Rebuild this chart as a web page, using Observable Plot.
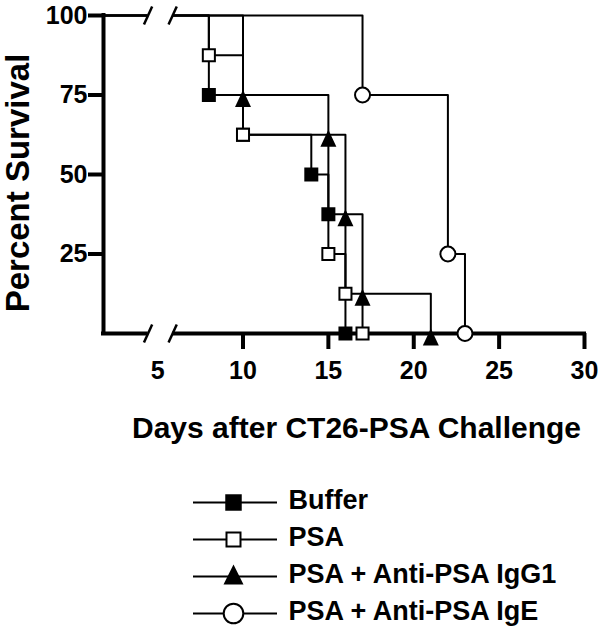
<!DOCTYPE html>
<html>
<head>
<meta charset="utf-8">
<script src="https://cdn.jsdelivr.net/npm/d3@7"></script>
<script src="https://cdn.jsdelivr.net/npm/@observablehq/plot@0.6"></script>
<style>
  html, body { margin: 0; padding: 0; background: white; }
  svg { display: block; }
</style>
</head>
<body>
<div id="chart"></div>
<script>
// ---- data ----
const seriesNames = ["Buffer", "PSA", "PSA + Anti-PSA IgG1", "PSA + Anti-PSA IgE"];

const bufferDays = [0, 8, 10, 14, 15, 16];
const bufferSurvival = [100, 75, 62.5, 50, 37.5, 0];

const psaDays = [0, 8, 10, 15, 16, 17];
const psaSurvival = [100, 87.5, 62.5, 25, 12.5, 0];

const igg1Days = [0, 10, 15, 16, 17, 21];
const igg1Survival = [100, 75, 62.5, 37.5, 12.5, 0];

const igeDays = [0, 17, 22, 23];
const igeSurvival = [100, 75, 25, 0];

const yTicks = [25, 50, 75, 100];
const xTickMarks = [10, 15, 20, 25, 30];
const xTickLabels = [5, 10, 15, 20, 25, 30];
const axisBreak = [4.44, 5.88]; // days where the x axis is broken

const xTitle = "Days after CT26-PSA Challenge";
const yTitle = "Percent Survival";

// ---- build table ----
function rowsOf(name, days, surv) {
  return days.map((d, i) => ({series: name, day: d, pct: surv[i]}));
}
const rows = [
  ...rowsOf(seriesNames[0], bufferDays, bufferSurvival),
  ...rowsOf(seriesNames[1], psaDays, psaSurvival),
  ...rowsOf(seriesNames[2], igg1Days, igg1Survival),
  ...rowsOf(seriesNames[3], igeDays, igeSurvival)
];
const events = name => rows.filter(r => r.series === name && r.day > 0);

// custom triangle symbols
const triangle = (w, top, bottom) => ({
  draw(ctx) {
    ctx.moveTo(0, top);
    ctx.lineTo(w / 2, bottom);
    ctx.lineTo(-w / 2, bottom);
    ctx.closePath();
  }
});
const triPlot = triangle(16, -5, 12);
const triLegend = triangle(20, -12, 8);

const font = "'Liberation Sans', Arial, Helvetica, sans-serif";

const breakSlashes = [];
for (const b of axisBreak) for (const yv of [0, 100]) breakSlashes.push({b, yv});

const chart = Plot.plot({
  width: 600,
  height: 450,
  marginLeft: 103,
  marginRight: 16,
  marginTop: 15,
  marginBottom: 117,
  style: {fontFamily: font, fontWeight: "bold", color: "black", background: "white", overflow: "visible"},
  x: {domain: [1.83, 30], clamp: true},
  y: {domain: [0, 100]},
  marks: [
    // curves
    Plot.line(rows, {x: "day", y: "pct", z: "series", curve: "step-after", stroke: "black", strokeWidth: 2}),
    // axis lines
    Plot.ruleY([0], {stroke: "black", strokeWidth: 4, strokeLinecap: "square"}),
    Plot.ruleX([0], {y1: 0, y2: 100, stroke: "black", strokeWidth: 4, strokeLinecap: "square"}),
    // axis break
    Plot.ruleY([0, 100], {x1: axisBreak[0], x2: axisBreak[1], stroke: "white", strokeWidth: 8}),
    Plot.link(breakSlashes, {
      x1: d => d.b - 0.24, x2: d => d.b + 0.24,
      y1: d => d.yv - 2.8, y2: d => d.yv + 2.8,
      stroke: "black", strokeWidth: 2.5
    }),
    // markers
    Plot.dot(events(seriesNames[0]), {x: "day", y: "pct", symbol: "square", r: 7.9, fill: "black", stroke: "none"}),
    Plot.dot(events(seriesNames[1]), {x: "day", y: "pct", symbol: "square", r: 6.8, fill: "white", stroke: "black", strokeWidth: 2}),
    Plot.dot(events(seriesNames[2]), {x: "day", y: "pct", symbol: triPlot, r: 8, fill: "black", stroke: "none"}),
    Plot.dot(events(seriesNames[3]), {x: "day", y: "pct", symbol: "circle", r: 7.5, fill: "white", stroke: "black", strokeWidth: 2}),
    // axes
    Plot.axisY({ticks: yTicks, tickSize: 15, tickPadding: 1, strokeWidth: 4, fontSize: 25, label: null, tickFormat: d => String(d)}),
    Plot.axisX({ticks: xTickMarks, tickSize: 16, strokeWidth: 4, fill: "none", label: null, tickFormat: () => ""}),
    Plot.axisX({ticks: xTickLabels, tickSize: 0, tickPadding: 28, fontSize: 25, label: null, tickFormat: d => String(d)}),
    // titles
    Plot.text([xTitle], {frameAnchor: "bottom", text: d => d, dx: 12.5, dy: 94.5, fontSize: 30, textAnchor: "middle", lineAnchor: "middle"}),
    Plot.text([yTitle], {frameAnchor: "left", text: d => d, dx: -85, dy: 8.5, rotate: -90, fontSize: 33, textAnchor: "middle", lineAnchor: "middle"})
  ]
});

const legend = Plot.plot({
  width: 600,
  height: 183,
  marginLeft: 193,
  marginRight: 323,
  marginTop: 0,
  marginBottom: 0,
  style: {fontFamily: font, fontWeight: "bold", color: "black", background: "white", overflow: "visible"},
  y: {type: "point", domain: seriesNames, range: [51, 163.5], padding: 0, axis: null},
  marks: [
    Plot.ruleY(seriesNames, {y: d => d, stroke: "black", strokeWidth: 2}),
    Plot.dot([seriesNames[0]], {y: d => d, frameAnchor: "left", dx: 40, symbol: "square", r: 9.3, fill: "black", stroke: "none"}),
    Plot.dot([seriesNames[1]], {y: d => d, frameAnchor: "left", dx: 40, symbol: "square", r: 7.9, fill: "white", stroke: "black", strokeWidth: 2}),
    Plot.dot([seriesNames[2]], {y: d => d, frameAnchor: "left", dx: 40, symbol: triLegend, r: 9, fill: "black", stroke: "none"}),
    Plot.dot([seriesNames[3]], {y: d => d, frameAnchor: "left", dx: 40, symbol: "circle", r: 9.8, fill: "white", stroke: "black", strokeWidth: 2}),
    Plot.text(seriesNames, {y: d => d, text: d => d, frameAnchor: "right", dx: 11, dy: -2, textAnchor: "start", lineAnchor: "middle", fontSize: 27})
  ]
});

const root = document.getElementById("chart");
root.appendChild(chart);
root.appendChild(legend);
</script>
</body>
</html>
